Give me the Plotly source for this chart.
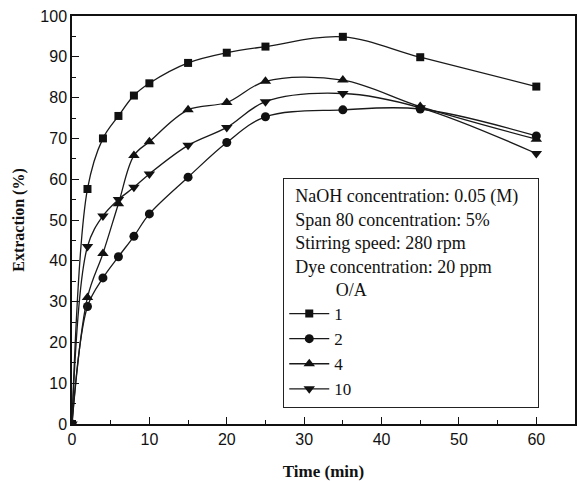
import plotly.graph_objects as go

time_min = [0, 2, 4, 6, 8, 10, 15, 20, 25, 35, 45, 60]
oa_1 = [0, 57.6, 70.0, 75.5, 80.5, 83.5, 88.5, 91.0, 92.5, 94.9, 89.9, 82.7]
oa_2 = [0, 28.8, 35.8, 41.0, 46.0, 51.5, 60.5, 69.0, 75.3, 77.0, 77.2, 70.6]
oa_4 = [0, 31.0, 41.8, 54.0, 65.8, 69.2, 77.0, 78.8, 84.0, 84.3, 77.8, 69.8]
oa_10 = [0, 43.5, 51.0, 55.0, 58.0, 61.3, 68.3, 72.7, 79.0, 81.0, 77.5, 66.3]

series_names = ["1", "2", "4", "10"]
series_vals = [oa_1, oa_2, oa_4, oa_10]
symbols = ["square", "circle", "triangle-up", "triangle-down"]
sizes = [8, 9, 10, 10]

fig = go.Figure()
for name, vals, sym, sz in zip(series_names, series_vals, symbols, sizes):
    fig.add_trace(go.Scatter(
        x=time_min, y=vals, name=name, mode="lines+markers",
        line=dict(color="#1a1a1a", width=1.3, shape="spline", smoothing=1.0),
        marker=dict(symbol=sym, size=sz, color="#111111"),
    ))

serif = "Liberation Serif, Times New Roman, serif"
sans = "Liberation Sans, Arial, sans-serif"

sp = "&nbsp;"
legend_title = (sp * 2 + "NaOH concentration: 0.05 (M)" + sp * 4 + "<br>"
                + sp * 2 + "Span 80 concentration: 5%<br>"
                + sp * 2 + "Stirring speed: 280 rpm<br>"
                + sp * 2 + "Dye concentration: 20 ppm<br>"
                + sp * 11 + "O/A")

fig.update_layout(
    width=578, height=481,
    margin=dict(l=72, r=3, t=16, b=57),
    paper_bgcolor="white", plot_bgcolor="white",
    showlegend=True,
    legend=dict(
        title=dict(text=legend_title, font=dict(family=serif, size=18, color="#111")),
        font=dict(family=serif, size=17, color="#111"),
        x=0.42, y=0.603, xanchor="left", yanchor="top",
        bordercolor="#222", borderwidth=1, bgcolor="white",
        itemwidth=40, tracegroupgap=0,
    ),
    xaxis=dict(
        range=[0, 65], tickvals=[0, 10, 20, 30, 40, 50, 60],
        ticks="inside", ticklen=7, tickwidth=1.2, tickcolor="#111",
        minor=dict(tickvals=[5, 15, 25, 35, 45, 55], ticks="inside", ticklen=4, tickcolor="#111"),
        showline=True, linecolor="#111", linewidth=1.5, mirror=True,
        showgrid=False, zeroline=False, automargin=False,
        tickfont=dict(family=sans, size=16, color="#111"),
        title=dict(text="<b>Time (min)</b>", font=dict(family=serif, size=17, color="#111"), standoff=25),
    ),
    yaxis=dict(
        range=[0, 100], tickvals=list(range(0, 101, 10)),
        ticks="inside", ticklen=7, tickwidth=1.2, tickcolor="#111",
        minor=dict(tickvals=list(range(5, 100, 10)), ticks="inside", ticklen=4, tickcolor="#111"),
        showline=True, linecolor="#111", linewidth=1.5, mirror=True,
        showgrid=False, zeroline=False, automargin=False,
        tickfont=dict(family=sans, size=16, color="#111"),
        title=dict(text="<b>Extraction (%)</b>", font=dict(family=serif, size=16, color="#111"), standoff=12),
    ),
)

fig.write_html("out.html")
